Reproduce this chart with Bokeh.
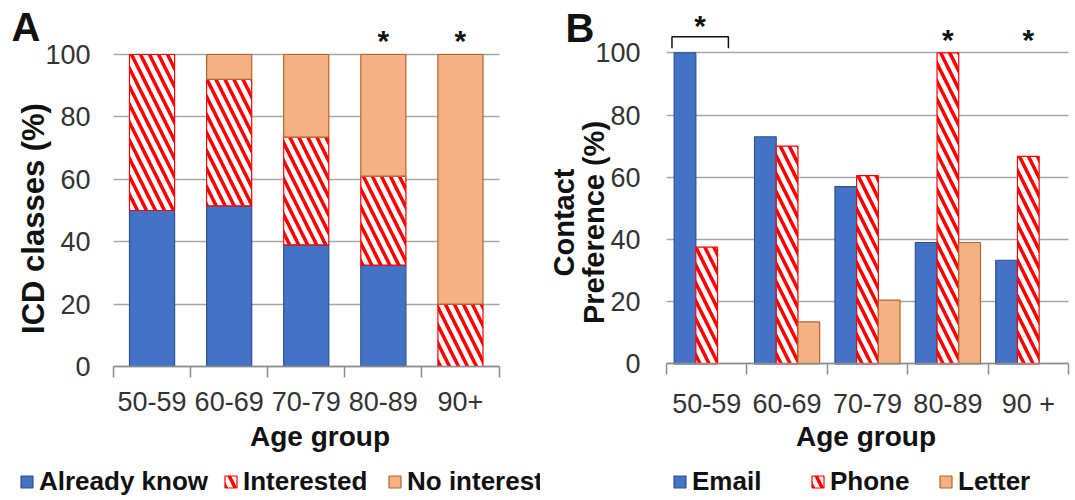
import math
from bokeh.plotting import figure
from bokeh.models import (ColumnDataSource, FixedTicker, Legend, LegendItem, Grid,
                          CDSView, BooleanFilter)
from bokeh.layouts import row
from bokeh.embed import file_html
from bokeh.resources import INLINE
from bokeh.core.properties import value

# ---------------- data ----------------
age_groups_a = ["50-59", "60-69", "70-79", "80-89", "90+"]
already_know = [50, 51.5, 39, 32.5, 0]
interested = [50, 40.5, 34.5, 28.5, 20]
no_interest = [0, 8, 26.5, 39, 80]
sig_a = ["", "", "", "*", "*"]

age_groups_b = ["50-59", "60-69", "70-79", "80-89", "90 +"]
email = [100, 73, 57, 39, 33.3]
phone = [37.5, 70, 60.5, 100, 66.7]
letter = [0, 13.5, 20.5, 39, 0]
sig_b_phone = ["", "", "", "*", "*"]
sig_b_email_vs_phone = ["*", "", "", "", ""]

y_ticks = [0, 20, 40, 60, 80, 100]

# ---------------- style ----------------
FONT = "Liberation Sans"
BLUE, BLUE_LINE = "#4472C4", "#2F528F"
PEACH, PEACH_LINE = "#F4B183", "#B4652C"
RED = "#FF0000"
GRID_C = "#A6A6A6"
AXIS_C = "#8C8C8C"
TICK_TXT = "#333333"
TXT = "#111111"
HATCH = dict(hatch_pattern="\\", hatch_color=RED, hatch_weight=3.5, hatch_scale=18)


class Geo:
    """pixel geometry of a panel: maps figure pixels to data units"""
    def __init__(self, width, height, left_px, x_ppu, y0_px, y_ppu):
        self.w, self.h = width, height
        self.x_ppu, self.y_ppu, self.y0 = x_ppu, y_ppu, y0_px
        self.x_start = 0.5 - left_px / x_ppu
        self.x_end = self.x_start + width / x_ppu
        self.y_start = -(height - y0_px) / y_ppu
        self.y_end = y0_px / y_ppu

    def X(self, px):
        return self.x_start + px / self.x_ppu

    def Y(self, py):
        return (self.y0 - py) / self.y_ppu


def make_fig(g):
    p = figure(width=g.w, height=g.h, x_range=(g.x_start, g.x_end),
               y_range=(g.y_start, g.y_end), title=None,
               output_backend="svg", toolbar_location=None, min_border=0)
    p.outline_line_color = None
    p.background_fill_color = "white"
    p.border_fill_color = "white"
    return p


def style_axes(p, labels, ystandoff):
    n = len(labels)
    centers = list(range(1, n + 1))
    bounds = [c - 0.5 for c in centers] + [n + 0.5]
    p.xgrid.grid_line_color = None
    yg = p.ygrid[0]
    yg.grid_line_color = GRID_C
    yg.grid_line_width = 1.5
    if "cross_bounds" in Grid.properties():
        yg.bounds = (y_ticks[0], y_ticks[-1])
        yg.cross_bounds = (bounds[0], bounds[-1])
    else:
        yg.visible = False
        p.segment(x0=[bounds[0]] * len(y_ticks), x1=[bounds[-1]] * len(y_ticks),
                  y0=y_ticks, y1=y_ticks, line_color=GRID_C, line_width=1.5)

    ya = p.yaxis[0]
    ya.fixed_location = bounds[0]
    ya.bounds = (y_ticks[0], y_ticks[-1])
    ya.ticker = FixedTicker(ticks=y_ticks)
    ya.axis_line_color = None
    ya.major_tick_line_color = None
    ya.minor_tick_line_color = None
    ya.major_tick_out = 0
    ya.major_label_text_font = FONT
    ya.major_label_text_font_size = "27px"
    ya.major_label_text_color = TICK_TXT
    ya.major_label_standoff = ystandoff

    xa = p.xaxis[0]
    xa.fixed_location = 0
    xa.bounds = (bounds[0], bounds[-1])
    xa.ticker = FixedTicker(ticks=centers, minor_ticks=bounds)
    xa.major_label_overrides = {c: lab for c, lab in zip(centers, labels)}
    xa.major_tick_line_color = None
    xa.major_tick_out = 0
    xa.major_tick_in = 0
    xa.minor_tick_out = 11
    xa.minor_tick_in = 0
    xa.minor_tick_line_color = AXIS_C
    xa.minor_tick_line_width = 1.5
    xa.axis_line_color = AXIS_C
    xa.axis_line_width = 1.5
    xa.major_label_text_font = FONT
    xa.major_label_text_font_size = "27px"
    xa.major_label_text_color = TICK_TXT
    xa.major_label_standoff = 14
    return centers


def add_text(p, x, y, text, size, angle=0.0, align="center", line_height=1.2):
    p.text(x=[x], y=[y], text=[text], angle=angle, text_align=align,
           text_baseline="middle", text_font=value(FONT), text_font_size=size,
           text_font_style="bold", text_color=TXT, text_line_height=line_height)


def add_legends(p, items, xs_px, y_px):
    for (lab, r), xpx in zip(items, xs_px):
        lg = Legend(items=[LegendItem(label=lab, renderers=[r])],
                    location=(xpx, y_px), orientation="horizontal",
                    label_text_font=FONT, label_text_font_size="26px",
                    label_text_font_style="bold", label_text_color=TXT,
                    glyph_width=15, glyph_height=15, label_standoff=5,
                    padding=0, margin=0, border_line_color=None,
                    background_fill_alpha=0)
        p.add_layout(lg)


def nonzero_view(vals):
    return CDSView(filter=BooleanFilter([v > 0 for v in vals]))


# ---------------- panel A ----------------
gA = Geo(width=540, height=500, left_px=113, x_ppu=77.1, y0_px=366, y_ppu=3.12)
pA = make_fig(gA)
xa = style_axes(pA, age_groups_a, 23)

t1 = list(already_know)
t2 = [a + b for a, b in zip(already_know, interested)]
t3 = [a + b + c for a, b, c in zip(already_know, interested, no_interest)]
srcA = ColumnDataSource(dict(x=xa, b1=[0] * len(xa), t1=t1, t2=t2, t3=t3))
W_A = 0.585
rA1 = pA.vbar(x="x", bottom="b1", top="t1", width=W_A, source=srcA,
              view=nonzero_view(already_know),
              fill_color=BLUE, line_color=BLUE_LINE, line_width=1.2)
rA2 = pA.vbar(x="x", bottom="t1", top="t2", width=W_A, source=srcA,
              view=nonzero_view(interested),
              fill_color="white", line_color=RED, line_width=1.2, **HATCH)
rA3 = pA.vbar(x="x", bottom="t2", top="t3", width=W_A, source=srcA,
              view=nonzero_view(no_interest),
              fill_color=PEACH, line_color=PEACH_LINE, line_width=1.2)

TOP = y_ticks[-1]
ast_off_A = 14.5 / gA.y_ppu   # asterisk centre sits just above the 100 % line
sigA = ColumnDataSource(dict(x=xa, y=[TOP + ast_off_A] * len(xa), t=sig_a))
pA.text(x="x", y="y", text="t", source=sigA, text_align="center",
        text_baseline="middle", text_font=value(FONT), text_font_size="30px",
        text_font_style="bold", text_color=TXT)

add_text(pA, gA.X(11), gA.Y(26), "A", "40px", align="left")
add_text(pA, gA.X(32.5), gA.Y(218), "ICD classes (%)", "31px", angle=math.pi / 2)
add_text(pA, gA.X(319.5), gA.Y(436), "Age group", "28px")

add_legends(pA, [("Already know", rA1), ("Interested", rA2), ("No interest", rA3)],
            [19, 223, 387], 3)

# ---------------- panel B ----------------
gB = Geo(width=535, height=500, left_px=126, x_ppu=80.4, y0_px=363.3, y_ppu=3.11)
pB = make_fig(gB)
xb = style_axes(pB, age_groups_b, 26)

W_B = 0.27
srcB = ColumnDataSource(dict(xe=[x - W_B for x in xb], xp=list(xb),
                             xl=[x + W_B for x in xb],
                             email=email, phone=phone, letter=letter))
rB1 = pB.vbar(x="xe", top="email", width=W_B, source=srcB, view=nonzero_view(email),
              fill_color=BLUE, line_color=BLUE_LINE, line_width=1.2)
rB2 = pB.vbar(x="xp", top="phone", width=W_B, source=srcB, view=nonzero_view(phone),
              fill_color="white", line_color=RED, line_width=1.2, **HATCH)
rB3 = pB.vbar(x="xl", top="letter", width=W_B, source=srcB, view=nonzero_view(letter),
              fill_color=PEACH, line_color=PEACH_LINE, line_width=1.2)

ast_off_B = 13 / gB.y_ppu
sigB = ColumnDataSource(dict(x=list(xb), y=[TOP + ast_off_B] * len(xb), t=sig_b_phone))
pB.text(x="x", y="y", text="t", source=sigB, text_align="center",
        text_baseline="middle", text_font=value(FONT), text_font_size="30px",
        text_font_style="bold", text_color=TXT)

# bracket comparing email with phone
bx, by, bt, tx, ty = [], [], [], [], []
for x, s in zip(xb, sig_b_email_vs_phone):
    if not s:
        continue
    x0 = x - 1.6 * W_B
    x1 = x + W_B
    y_leg = TOP + 4.5 / gB.y_ppu
    y_bar = TOP + 16 / gB.y_ppu
    bx.append([x0, x0, x1, x1])
    by.append([y_leg, y_bar, y_bar, y_leg])
    tx.append((x0 + x1) / 2)
    ty.append(TOP + 27 / gB.y_ppu)
    bt.append(s)
pB.multi_line(xs=bx, ys=by, line_color=TXT, line_width=1.5)
pB.text(x=tx, y=ty, text=bt, text_align="center", text_baseline="middle",
        text_font=value(FONT), text_font_size="30px", text_font_style="bold",
        text_color=TXT)

add_text(pB, gB.X(25), gB.Y(27.5), "B", "40px", align="left")
add_text(pB, gB.X(38.5), gB.Y(222), "Contact\nPreference (%)", "29px",
         angle=math.pi / 2, line_height=0.93)
add_text(pB, gB.X(325.5), gB.Y(436), "Age group", "28px")

add_legends(pB, [("Email", rB1), ("Phone", rB2), ("Letter", rB3)],
            [132, 270, 398], 3)

layout = row(pA, pB)
open("out.html", "w").write(file_html(layout, INLINE))
